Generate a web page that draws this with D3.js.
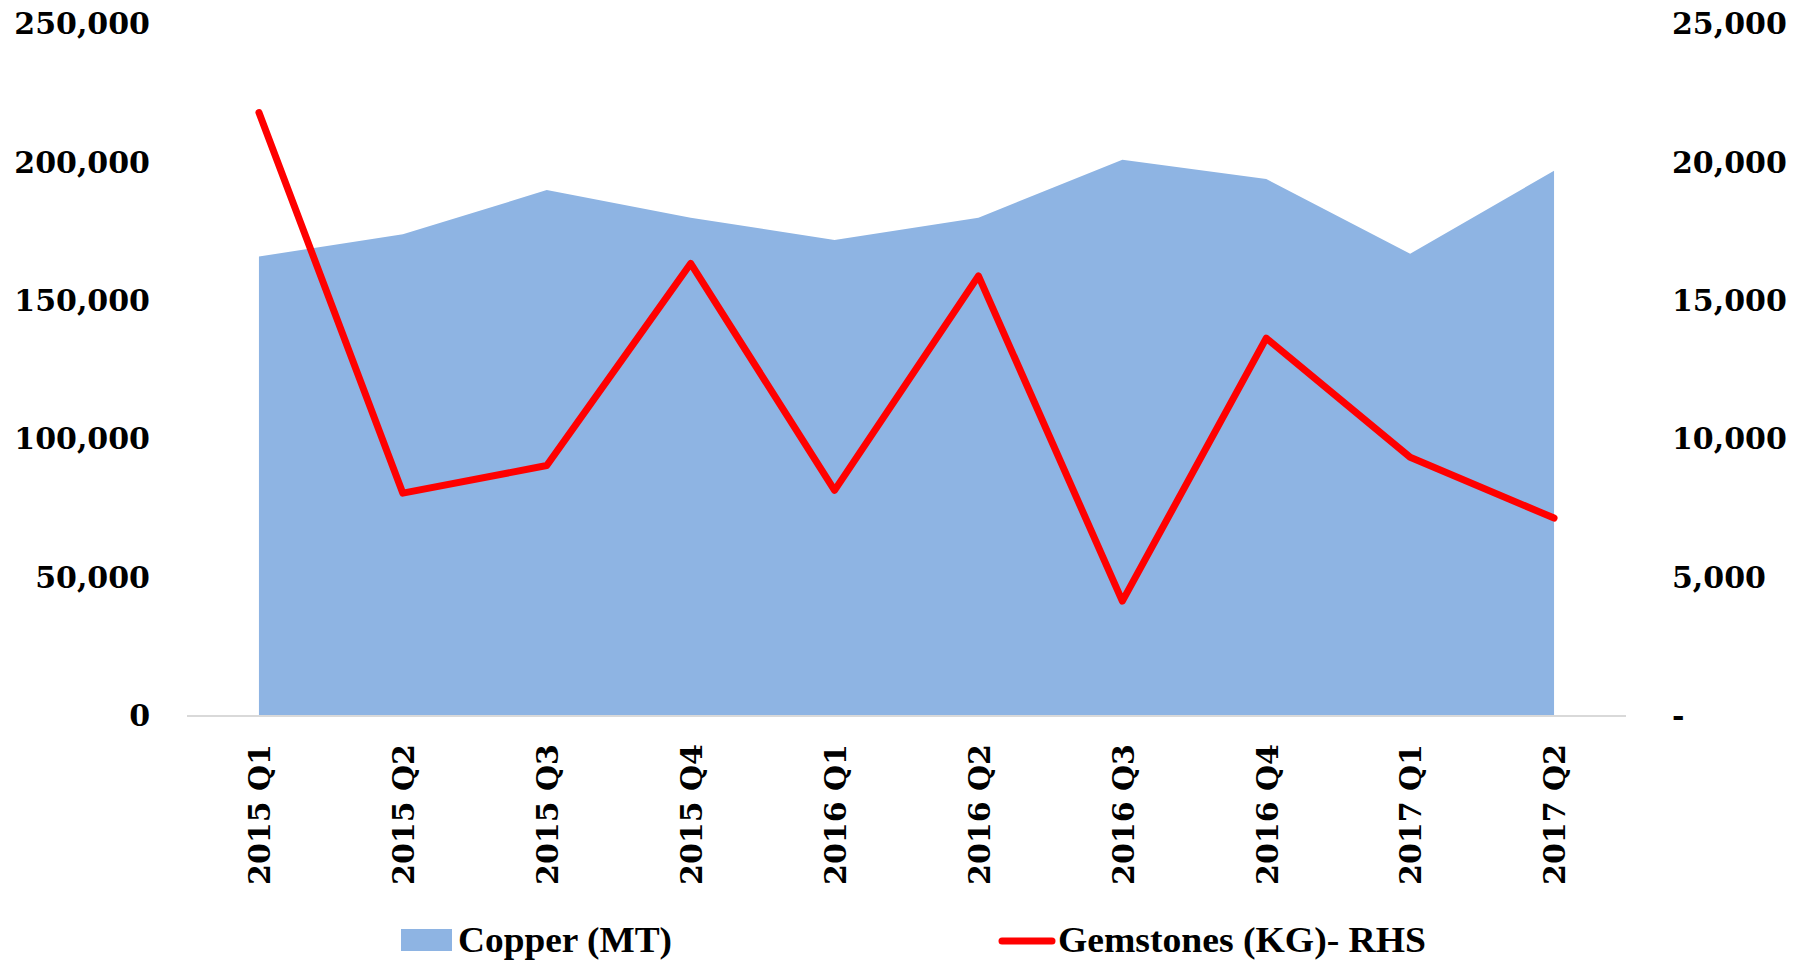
<!DOCTYPE html>
<html>
<head>
<meta charset="utf-8">
<script src="https://cdn.jsdelivr.net/npm/d3@7"></script>
<style>
  html, body { margin: 0; padding: 0; background: #fff; }
  svg { display: block; }
</style>
</head>
<body>
<svg id="chart" width="1808" height="962"></svg>
<script>
const categories = ["2015 Q1","2015 Q2","2015 Q3","2015 Q4","2016 Q1","2016 Q2","2016 Q3","2016 Q4","2017 Q1","2017 Q2"];
const copper = [166000, 174000, 190000, 180000, 172000, 180000, 201000, 194000, 167000, 197000];
const gemstones = [21800, 8050, 9050, 16350, 8150, 15900, 4150, 13650, 9350, 7150];
const leftTicks = [0, 50000, 100000, 150000, 200000, 250000];
const rightTicks = [0, 5000, 10000, 15000, 20000, 25000];
const seriesNames = ["Copper (MT)", "Gemstones (KG)- RHS"];

(function () {
const svg = d3.select("#chart");
const plotLeft = 187, plotRight = 1626, plotTop = 24, plotBottom = 716;
const tickFont = "'DejaVu Serif', serif";

const x = d3.scalePoint().domain(categories).range([plotLeft, plotRight]).padding(0.5);
const yL = d3.scaleLinear().domain([0, 250000]).range([plotBottom, plotTop]);
const yR = d3.scaleLinear().domain([0, 25000]).range([plotBottom, plotTop]);

// Copper area
const area = d3.area()
  .x((d, i) => x(categories[i]))
  .y0(yL(0))
  .y1(d => yL(d));
svg.append("path")
  .datum(copper)
  .attr("d", area)
  .attr("fill", "#8EB4E3");

// axis baseline
svg.append("line")
  .attr("x1", plotLeft).attr("x2", plotRight)
  .attr("y1", plotBottom).attr("y2", plotBottom)
  .attr("stroke", "#D9D9D9").attr("stroke-width", 2);

// Gemstones line
const line = d3.line()
  .x((d, i) => x(categories[i]))
  .y(d => yR(d));
svg.append("path")
  .datum(gemstones)
  .attr("d", line)
  .attr("fill", "none")
  .attr("stroke", "#FF0000")
  .attr("stroke-width", 7)
  .attr("stroke-linejoin", "round")
  .attr("stroke-linecap", "round");

// Left axis
const gL = svg.append("g")
  .attr("transform", "translate(150,0)")
  .call(d3.axisLeft(yL).tickValues(leftTicks).tickSize(0).tickPadding(0).tickFormat(d3.format(",")));
gL.select(".domain").remove();
gL.selectAll("text")
  .attr("font-family", tickFont)
  .attr("font-weight", "bold")
  .attr("font-size", 30)
  .attr("fill", "#000");

// Right axis
const gR = svg.append("g")
  .attr("transform", "translate(1672,0)")
  .call(d3.axisRight(yR).tickValues(rightTicks).tickSize(0).tickPadding(0)
    .tickFormat(d => d === 0 ? "-" : d3.format(",")(d)));
gR.select(".domain").remove();
gR.selectAll("text")
  .attr("font-family", tickFont)
  .attr("font-weight", "bold")
  .attr("font-size", 30)
  .attr("fill", "#000");

// Bottom axis labels
const gB = svg.append("g")
  .attr("transform", `translate(0,${plotBottom})`)
  .call(d3.axisBottom(x).tickSize(0).tickPadding(0));
gB.select(".domain").remove();
gB.selectAll("text")
  .attr("font-family", tickFont)
  .attr("font-weight", "bold")
  .attr("font-size", 30)
  .attr("fill", "#000")
  .attr("text-anchor", "end")
  .attr("transform", "rotate(-90)")
  .attr("x", -28)
  .attr("y", 0)
  .attr("dy", "0.36em");

// Legend
const legendFont = "'Liberation Serif', serif";
const lg = svg.append("g");
lg.append("rect")
  .attr("x", 401).attr("y", 929).attr("width", 51).attr("height", 22)
  .attr("fill", "#8EB4E3");
lg.append("text")
  .attr("x", 458).attr("y", 952)
  .attr("font-family", legendFont).attr("font-weight", "bold").attr("font-size", 36)
  .attr("textLength", 214).attr("lengthAdjust", "spacingAndGlyphs")
  .text(seriesNames[0]);
lg.append("line")
  .attr("x1", 1002).attr("x2", 1052).attr("y1", 941).attr("y2", 941)
  .attr("stroke", "#FF0000").attr("stroke-width", 7).attr("stroke-linecap", "round");
lg.append("text")
  .attr("x", 1058).attr("y", 952)
  .attr("font-family", legendFont).attr("font-weight", "bold").attr("font-size", 36)
  .attr("textLength", 368).attr("lengthAdjust", "spacingAndGlyphs")
  .text(seriesNames[1]);
})();
</script>
</body>
</html>
